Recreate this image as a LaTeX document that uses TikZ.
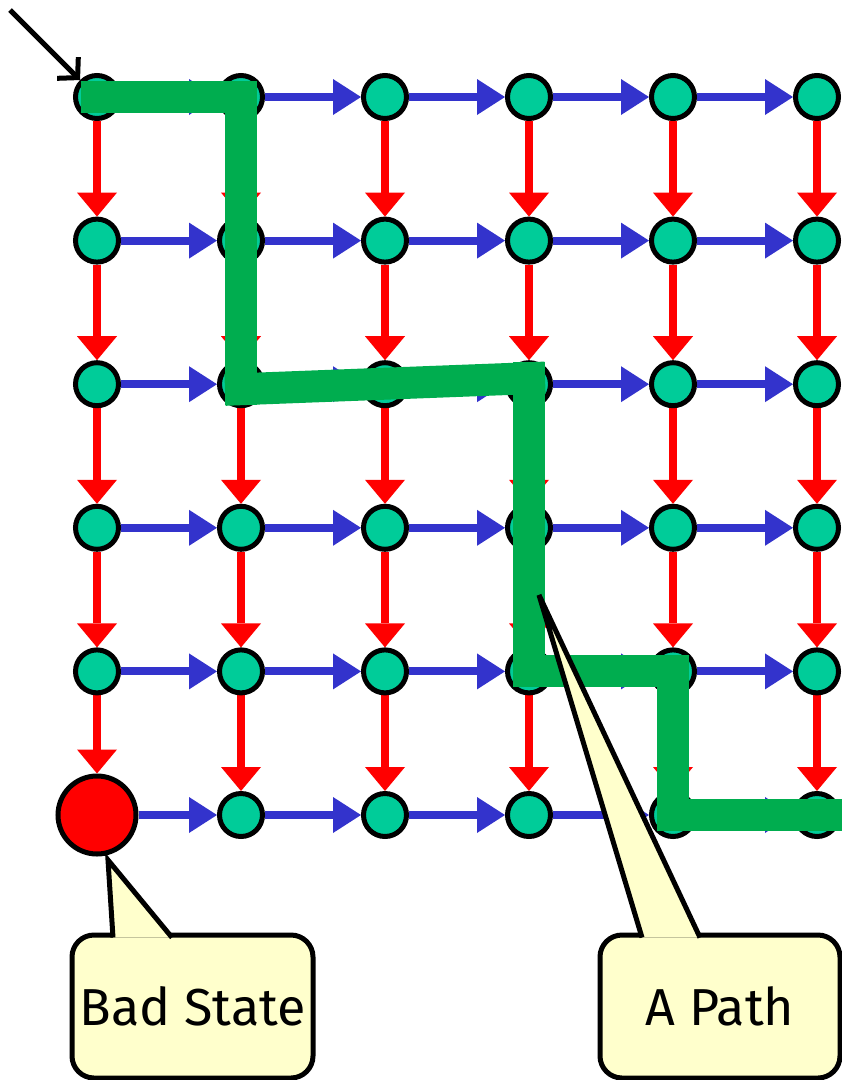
\documentclass[tikz,border=0pt]{standalone}
\usepackage{fontspec}
\setmainfont{Fira Sans}
\usetikzlibrary{arrows.meta,backgrounds,calc}
\definecolor{statefill}{HTML}{00CC99}
\definecolor{moveblue}{HTML}{3333CC}
\definecolor{pathgreen}{HTML}{00AD4F}
\definecolor{notefill}{HTML}{FFFFCC}
\tikzset{
  state/.style={circle,draw=black,line width=5pt,fill=statefill,minimum size=43pt,inner sep=0pt},
  bad/.style={state,fill=red,minimum size=78pt},
  right move/.style={draw=moveblue,line width=8pt,-{Triangle[length=28pt,width=36pt,line width=0pt]}},
  down move/.style={draw=red,line width=8pt,-{Triangle[length=24pt,width=40pt,line width=0pt]}},
  trace/.style={draw=pathgreen,line width=32pt,line cap=rect},
  note/.style={draw=black,line width=5pt,fill=notefill,rounded corners=22pt,outer sep=0pt,
    minimum width=241pt,minimum height=143pt,anchor=north west,font=\fontsize{52}{60}\selectfont},
  pointer/.style={draw=black,line width=5pt,fill=notefill,line join=miter}
}
\begin{document}
\begin{tikzpicture}[x=1pt,y=-1pt]
\useasboundingbox (0,0) rectangle (842,1080);
\foreach \r in {1,...,6}
  \foreach \c in {1,...,6}{
    \ifnum\r\c=61 \def\kind{bad}\else\def\kind{state}\fi
    \node[\kind] (n-\r-\c) at ({97+144*(\c-1)},{97+143.6*(\r-1)}) {};
  }
\begin{scope}[on background layer]
\foreach \r in {1,...,6}
  \foreach \c [count=\n from 2] in {1,...,5}
    \draw[right move] (n-\r-\c) -- (n-\r-\n);
\foreach \r [count=\n from 2] in {1,...,5}
  \foreach \c in {1,...,6}
    \draw[down move] (n-\r-\c) -- (n-\n-\c);
\end{scope}

\coordinate (init) at (10,10);
\draw[line width=5pt,-{Straight Barb[length=14pt,width=30pt]}] (init) -- (n-1-1);

\draw[trace] (n-1-1.center) -- (n-1-2.center);
\draw[trace] (n-1-2.center) -- ($(n-3-2)+(0,5)$);
\draw[trace] ($(n-3-2)+(0,5)$) -- ($(n-3-4)+(0,-6)$);
\draw[trace] ($(n-3-4)+(0,-6)$) -- (n-5-4.center);
\draw[trace] (n-5-4.center) -- (n-5-5.center);
\draw[trace] (n-5-5.center) -- (n-6-5.center);
\draw[trace] (n-6-5.center) -- ($(n-6-6)+(12,0)$);

\node[note] (bad-note) at (72,935) {Bad State};
\coordinate (bad-tip) at (108,860);
\filldraw[pointer] ($(bad-note.north west)+(41,2.5)$) -- (bad-tip) -- ($(bad-note.north west)+(100,2.5)$);
\node[note,minimum width=240pt] (path-note) at (600,935) {A Path};
\coordinate (path-tip) at (539,595);
\filldraw[pointer] ($(path-note.north west)+(42,2.5)$) -- (path-tip) -- ($(path-note.north west)+(100,2.5)$);
\end{tikzpicture}
\end{document}
